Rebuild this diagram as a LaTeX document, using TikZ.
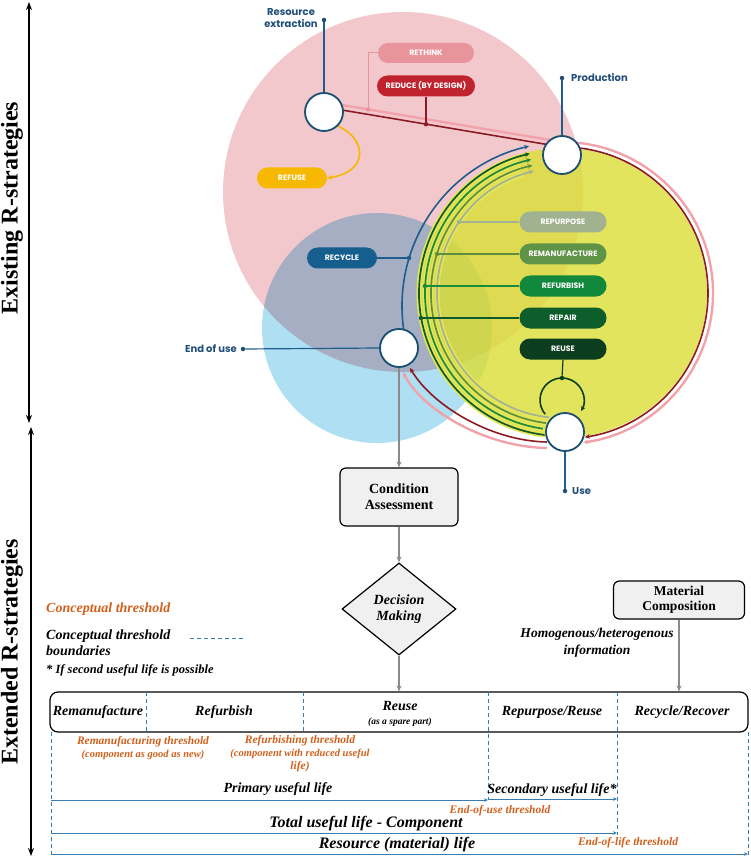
\documentclass[tikz,border=0pt]{standalone}
\usepackage{fontspec}
\setmainfont{Liberation Serif}
\newfontfamily\popf{Poppins}
\usetikzlibrary{arrows.meta,shapes.geometric,shapes.misc,calc}
\definecolor{pinkc}{HTML}{F3C8CD}
\definecolor{bluec}{HTML}{AEDFF2}
\definecolor{yelc}{HTML}{DADE38}
\definecolor{yelband}{HTML}{E4E658}
\definecolor{navy}{HTML}{1B4F72}
\definecolor{labc}{HTML}{1F4E79}
\definecolor{dred}{HTML}{8B1A22}
\definecolor{lpink}{HTML}{F2A2AA}
\definecolor{arcblue}{HTML}{1F5E8C}
\definecolor{ga}{HTML}{0E5A2A}
\definecolor{gb}{HTML}{1A8A3C}
\definecolor{gc}{HTML}{5E8F3E}
\definecolor{gd}{HTML}{A2B293}
\definecolor{reuseg}{HTML}{0B3D1E}
\definecolor{repairg}{HTML}{0E5E2C}
\definecolor{refurbg}{HTML}{12883C}
\definecolor{remang}{HTML}{5F9446}
\definecolor{repurg}{HTML}{A0B28F}
\definecolor{recyc}{HTML}{155E8E}
\definecolor{rethinkc}{HTML}{E8949B}
\definecolor{reducec}{HTML}{C0232E}
\definecolor{refusec}{HTML}{F6B800}
\definecolor{orng}{HTML}{D0601C}
\definecolor{dashb}{HTML}{3A7BB0}
\definecolor{boxg}{HTML}{F0F0F0}
\definecolor{arrg}{HTML}{8A8A8A}
\pgfdeclarelayer{bg}
\pgfdeclarelayer{mid}
\pgfsetlayers{bg,mid,main}
\begin{document}
\begin{tikzpicture}[x=1pt,y=-1pt,
  pill/.style={rounded rectangle, minimum height=21pt, inner sep=0pt, text=white, font=\popf\bfseries\fontsize{7.8}{9}\selectfont},
  stage/.style={circle, draw=navy, line width=1.8pt, fill=white, minimum size=38pt, inner sep=0pt},
  lab/.style={text=labc, font=\popf\bfseries\fontsize{10}{11.5}\selectfont, inner sep=0pt},
  arr/.style={-{Stealth[length=5pt,width=4.5pt]}},
  dotc/.style={circle, fill, inner sep=0pt, minimum size=4.5pt},
  fbox/.style={draw, rounded corners=6pt, line width=1.2pt, fill=boxg, align=center, font=\bfseries\fontsize{14}{16}\selectfont, inner sep=0pt},
  garrow/.style={draw=arrg, line width=1.2pt, -{Stealth[length=6pt,width=5pt]}},
  thr/.style={text=orng, font=\bfseries\itshape\fontsize{11.5}{13}\selectfont, align=center, inner sep=0pt},
  bi/.style={font=\bfseries\itshape\fontsize{14}{16}\selectfont, inner sep=0pt},
  harrow/.style={draw=dashb, line width=0.9pt, -{Stealth[length=4pt,width=3.5pt]}},
  dsh/.style={draw=dashb, line width=0.9pt, dash pattern=on 4pt off 3pt},
  side/.style={rotate=90, font=\bfseries\fontsize{24}{26}\selectfont, inner sep=0pt},
]
\useasboundingbox (0,0) rectangle (750,858);

% ---------- big circles ----------
\begin{pgfonlayer}{bg}
\fill[pinkc] (403,192) circle[radius=180];
\begin{scope}[blend mode=multiply]
\fill[bluec] (377,328) circle[radius=115];
\end{scope}
\fill[yelc, fill opacity=0.82] (562,293) circle[radius=145];
\end{pgfonlayer}

% ---------- stage circles ----------
\node[stage] (R) at (324,112) {};
\node[stage] (P) at (562,155) {};
\node[stage] (E) at (399,348) {};
\node[stage] (U) at (565,432) {};
\coordinate (G) at (562,293);
\coordinate (B) at (566,306);
\coordinate (L) at (562,400);

\begin{pgfonlayer}{mid}
% rethink / reduce flow lines
\coordinate (pk0) at (324,102);
\coordinate (pk1) at (562,142);
\coordinate (rd0) at (324,107);
\coordinate (rd1) at (562,147);
\draw[lpink, line width=2.4pt, arr] (pk0) -- (pk1) arc[start angle=270,end angle=442,radius=151];
\draw[dred, line width=1.6pt, arr] (rd0) -- (rd1) arc[start angle=270,end angle=441,radius=146];
\coordinate (pk2) at (547,448);
\coordinate (pk3) at (403,372);
\coordinate (rd2) at (547,442);
\coordinate (rd3) at (410,368);
\draw[lpink, line width=2.4pt, arr] (pk2) .. controls (485,447) and (422,410) .. (pk3);
\draw[dred, line width=1.6pt, arr] (rd2) .. controls (490,441) and (432,405) .. (rd3);

% blue recycle arc
\draw[arcblue, line width=1.6pt, arr] (B) ++(172:164) arc[start angle=172,end angle=257,radius=164];

% green arcs
\foreach \r/\a in {143/97, 137/98, 131/97, 125/96}{
  \draw[yelband, line width=5pt] (G) ++(\a:\r) arc[start angle=\a,end angle=252,radius=\r];
}
\foreach \r/\a/\c in {143/97/ga, 137/98/gb, 131/97/gc, 125/96/gd}{
  \draw[color=\c, line width=1.7pt, arr] (G) ++(\a:\r) arc[start angle=\a,end angle=257,radius=\r];
}

% reuse loop
\draw[reuseg, line width=1.6pt, arr] (L) ++(140:22) arc[start angle=140,end angle=390,radius=22];
\end{pgfonlayer}

% ---------- pills ----------
\node[pill, fill=rethinkc, minimum width=96pt, minimum height=20pt] (rethink) at (426,53) {RETHINK};
\node[pill, fill=reducec, minimum width=98pt] (reduce) at (426,86) {REDUCE (BY DESIGN)};
\node[pill, fill=refusec, minimum width=70pt] (refuse) at (292,178) {REFUSE};
\node[pill, fill=recyc, minimum width=70pt] (recycle) at (342,258) {RECYCLE};
\node[pill, fill=repurg, minimum width=87pt] (repurpose) at (563,222) {REPURPOSE};
\node[pill, fill=remang, minimum width=87pt] (reman) at (563,254) {REMANUFACTURE};
\node[pill, fill=refurbg, minimum width=87pt] (refurb) at (563,286) {REFURBISH};
\node[pill, fill=repairg, minimum width=87pt] (repair) at (563,318) {REPAIR};
\node[pill, fill=reuseg, minimum width=87pt] (reuse) at (563,349) {REUSE};

% ---------- pill connectors ----------
\begin{pgfonlayer}{mid}
\node[dotc, rethinkc] (dth) at (368,109.4) {};
\draw[rethinkc, line width=1pt] (rethink.west) -| (dth);
\node[dotc, dred] (drd) at (426,124.2) {};
\draw[dred, line width=1.2pt] (reduce.south) -- (drd);
\draw[refusec, line width=1.6pt, arr] (R.south east) .. controls (368,140) and (368,172) .. (refuse.east);
\node[dotc, arcblue] (drc) at (409,258) {};
\draw[arcblue, line width=1.2pt] (recycle.east) -- (drc);
\node[dotc, gd] (drp) at (459,222) {};
\draw[gd, line width=1.2pt] (repurpose.west) -- (drp);
\node[dotc, gc] (drm) at (437,254) {};
\draw[gc, line width=1.2pt] (reman.west) -- (drm);
\node[dotc, gb] (drf) at (425,286) {};
\draw[gb, line width=1.2pt] (refurb.west) -- (drf);
\node[dotc, ga] (drr) at (421,318) {};
\draw[ga, line width=1.2pt] (repair.west) -- (drr);
\node[dotc, reuseg] (dru) at (562,378) {};
\draw[reuseg, line width=1.2pt] (reuse.south) -- (dru);
\end{pgfonlayer}

% ---------- stage labels ----------
\node[lab, align=center] (lre) at (291,18) {Resource\\extraction};
\node[dotc, labc] (dre) at (324,20) {};
\node[lab, anchor=west] (lpr) at (571,78) {Production};
\node[dotc, labc] (dpr) at (562,78) {};
\node[lab, anchor=east] (leu) at (237,349) {End of use};
\node[dotc, labc] (deu) at (243,349) {};
\node[lab, anchor=west] (lus) at (572,491) {Use};
\node[dotc, labc] (dus) at (565,491) {};
\begin{pgfonlayer}{mid}
\draw[arcblue, line width=1.2pt] (dre) -- (R.north);
\draw[arcblue, line width=1.2pt] (dpr) -- (P.north);
\draw[arcblue, line width=1.2pt] (deu) -- (E.west);
\draw[arcblue, line width=1.2pt] (dus) -- (U.south);
\end{pgfonlayer}

% ---------- left axis ----------
\coordinate (a1) at (29,2);
\coordinate (a2) at (29,423);
\coordinate (a3) at (31,427);
\coordinate (a4) at (31,856);
\draw[line width=1.8pt, {Stealth[length=8pt,width=6pt]}-{Stealth[length=8pt,width=6pt]}] (a1) -- (a2);
\draw[line width=1.8pt, {Stealth[length=8pt,width=6pt]}-{Stealth[length=8pt,width=6pt]}] (a3) -- (a4);
\node[side] (ex1) at (12,208) {Existing R-strategies};
\node[side] (ex2) at (12,652) {Extended R-strategies};

% ---------- lower flow ----------
\node[fbox, minimum width=118pt, minimum height=58pt] (CA) at (399,497) {Condition\\Assessment};
\node[diamond, draw, line width=1.2pt, fill=boxg, minimum width=114pt, minimum height=92pt, inner sep=0pt, align=center, font=\bfseries\itshape\fontsize{14}{16}\selectfont] (DM) at (399,609) {Decision\\Making};
\node[fbox, minimum width=131pt, minimum height=38pt, font=\bfseries\fontsize{13.5}{15}\selectfont] (MC) at (679,600) {Material\\Composition};
\node[draw, rounded corners=8pt, line width=1.2pt, minimum width=698pt, minimum height=40pt, inner sep=0pt] (T) at (399,712) {};
\draw[garrow] (E.south) -- (CA.north);
\draw[garrow] (CA.south) -- (DM.north);
\draw[garrow] (DM.south) -- (DM.south |- T.north);
\draw[garrow] (MC.south) -- (MC.south |- T.north);
\node[align=center, font=\bfseries\itshape\fontsize{13.5}{17}\selectfont, inner sep=0pt] (hom) at (597,643) {Homogenous/heterogenous\\information};

% ---------- legend ----------
\node[anchor=west, text=orng, font=\bfseries\itshape\fontsize{14}{16}\selectfont, inner sep=0pt] (lg1) at (46,609) {Conceptual threshold};
\node[anchor=west, align=left, font=\bfseries\itshape\fontsize{14}{16}\selectfont, inner sep=0pt] (lg2) at (46,643) {Conceptual threshold\\boundaries};
\coordinate (lgd1) at (190,638);
\coordinate (lgd2) at (243,638);
\draw[dsh] (lgd1) -- (lgd2);
\node[anchor=west, font=\bfseries\itshape\fontsize{12.5}{15}\selectfont, inner sep=0pt] (lg3) at (46,670) {* If second useful life is possible};

% ---------- table ----------
\draw[dsh] (146,692) -- (146,732);
\draw[dsh] (303,692) -- (303,732);
\draw[dsh] (488,692) -- (488,800);
\draw[dsh] (617,692) -- (617,835);
\draw[dsh] (51,732) -- (51,856);
\draw[dsh] (748,732) -- (748,855);
\node[bi] (c1) at (98,712) {Remanufacture};
\node[bi] (c2) at (224,712) {Refurbish};
\node[bi] (c3) at (400,706) {Reuse};
\node[font=\bfseries\itshape\fontsize{9.5}{11}\selectfont, inner sep=0pt] (c3b) at (400,722) {(as a spare part)};
\node[bi] (c4) at (552,712) {Repurpose/Reuse};
\node[bi] (c5) at (682,712) {Recycle/Recover};

\node[thr] (t1) at (143,748) {Remanufacturing threshold\\\fontsize{10.5}{13}\selectfont (component as good as new)};
\node[thr] (t2) at (300,754) {Refurbishing threshold\\\fontsize{10.5}{13}\selectfont (component with reduced useful\\life)};

\coordinate (h1a) at (51,800);  \coordinate (h1b) at (488,800);
\coordinate (h2a) at (488,799); \coordinate (h2b) at (617,799);
\coordinate (h3a) at (51,833);  \coordinate (h3b) at (617,833);
\coordinate (h4a) at (51,854);  \coordinate (h4b) at (748,854);
\draw[harrow] (h1a) -- (h1b);
\draw[harrow] (h2a) -- (h2b);
\draw[harrow] (h3a) -- (h3b);
\draw[harrow] (h4a) -- (h4b);
\node[bi] (pu) at (278,789) {Primary useful life};
\node[bi] (su) at (552,790) {Secondary useful life*};
\node[thr] (eu) at (500,811) {End-of-use threshold};
\node[font=\bfseries\itshape\fontsize{16}{18}\selectfont, inner sep=0pt] (tu) at (366,824) {Total useful life - Component};
\node[font=\bfseries\itshape\fontsize{16}{18}\selectfont, inner sep=0pt] (rl) at (397,845) {Resource (material) life};
\node[thr] (el) at (628,843) {End-of-life threshold};
\end{tikzpicture}
\end{document}
